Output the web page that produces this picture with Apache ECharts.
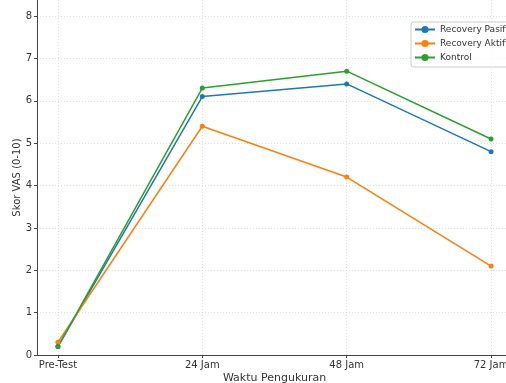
<!DOCTYPE html>
<html><head><meta charset="utf-8">
<script src="https://cdn.jsdelivr.net/npm/echarts@6/dist/echarts.min.js"></script>
<style>html,body{margin:0;padding:0;background:#fff}#c{width:506px;height:383px}</style>
</head><body><div id="c"></div>
<script>
const categories = ['Pre-Test', '24 Jam', '48 Jam', '72 Jam'];
const pasif = [0.2, 6.1, 6.4, 4.8];
const aktif = [0.3, 5.4, 4.2, 2.1];
const kontrol = [0.2, 6.3, 6.7, 5.1];
const seriesNames = ['Recovery Pasif', 'Recovery Aktif', 'Kontrol'];
const colors = ['#1f77b4', '#ff7f0e', '#2ca02c'];
const yTicks = [0,1,2,3,4,5,6,7,8];
const xTicks = [0,1,2,3];

const chart = echarts.init(document.getElementById('c'));
const font = 'DejaVu Sans';
function mk(name, vals, color) {
  return {
    name, type: 'line', data: vals.map((v, i) => [i, v]),
    symbol: 'circle', symbolSize: 5,
    lineStyle: {color, width: 1.5}, itemStyle: {color},
    z: 3
  };
}
const grid = {show: true, lineStyle: {color: '#d8d8d8', width: 0.8, type: [1, 2]}};
chart.setOption({
  animation: false,
  textStyle: {fontFamily: font},
  grid: {left: 37, right: -6, top: 0, bottom: 28, outerBoundsMode: 'none', containLabel: false},
  legend: {
    left: 411, top: 22, orient: 'vertical',
    backgroundColor: 'rgba(255,255,255,0.8)', borderColor: '#ccc', borderWidth: 1, borderRadius: 3,
    padding: [3, 6, 5, 3], itemGap: 5, itemWidth: 20, itemHeight: 9,
    textStyle: {fontSize: 9, color: '#333', fontFamily: font},
    data: seriesNames
  },
  xAxis: {
    type: 'value', min: -0.145, max: 3.145,
    name: 'Waktu Pengukuran', nameLocation: 'middle', nameGap: 18, nameMoveOverlap: false,
    nameTextStyle: {fontSize: 11, color: '#333', fontFamily: font},
    axisLine: {onZero: false, lineStyle: {color: '#444'}},
    axisTick: {show: true, length: 3, lineStyle: {color: '#444'}, customValues: xTicks},
    axisLabel: {fontSize: 10, color: '#333', margin: 5, customValues: xTicks,
      formatter: v => categories[Math.round(v)]},
    splitLine: grid
  },
  yAxis: {
    type: 'value', min: 0, max: 8.38,
    name: 'Skor VAS (0-10)', nameLocation: 'middle', nameGap: 15, nameMoveOverlap: false,
    nameTextStyle: {fontSize: 10, color: '#333', fontFamily: font},
    axisLine: {show: true, onZero: false, lineStyle: {color: '#444'}},
    axisTick: {show: true, length: 3, lineStyle: {color: '#444'}, customValues: yTicks},
    axisLabel: {fontSize: 10, color: '#333', margin: 5, customValues: yTicks},
    splitLine: grid
  },
  series: [mk(seriesNames[0], pasif, colors[0]), mk(seriesNames[1], aktif, colors[1]), mk(seriesNames[2], kontrol, colors[2])]
});
</script></body></html>
